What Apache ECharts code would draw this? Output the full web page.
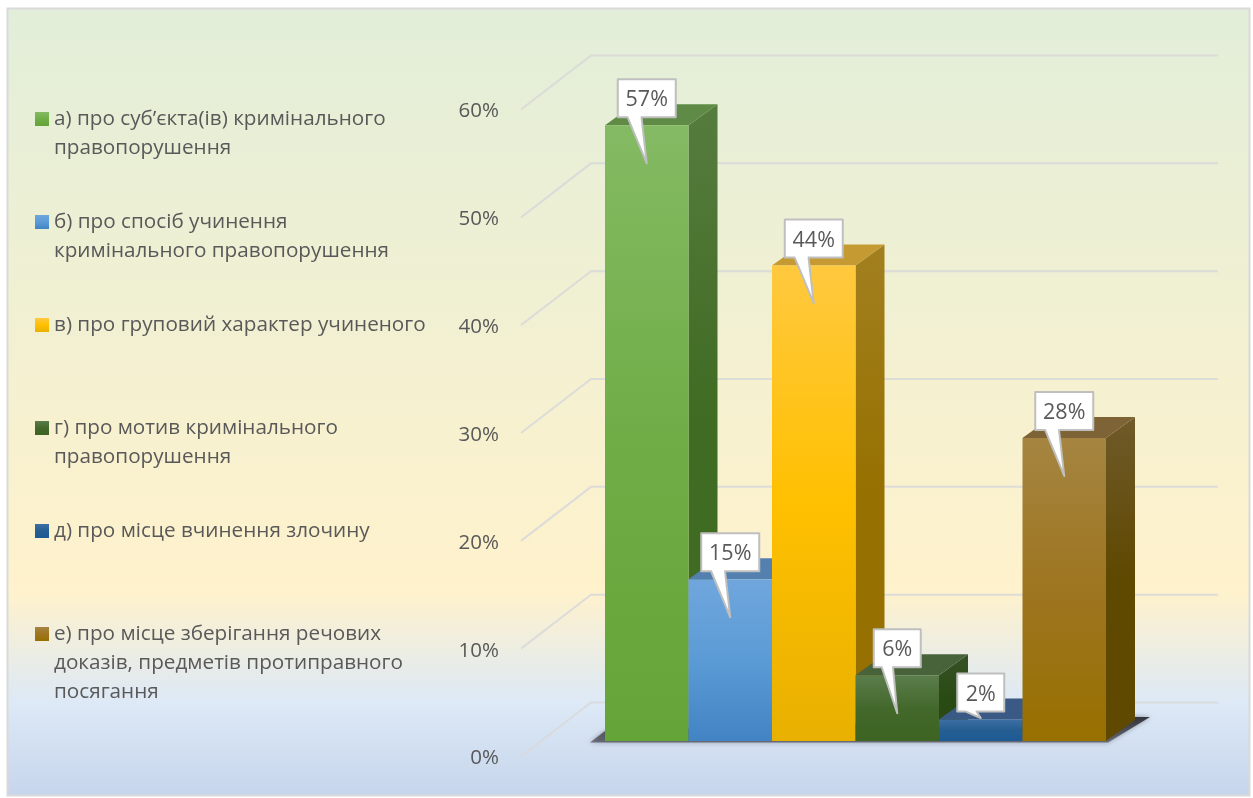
<!DOCTYPE html>
<html><head><meta charset="utf-8">
<style>html,body{margin:0;padding:0;background:#fff}#c{width:1253px;height:798px}</style>
<script src="https://cdn.jsdelivr.net/npm/echarts@6/dist/echarts.min.js"></script>
</head><body><div id="c"></div>
<script>
var categories = [
  'а) про суб’єкта(ів) кримінального\nправопорушення',
  'б) про спосіб учинення\nкримінального правопорушення',
  'в) про груповий характер учиненого',
  'г) про мотив кримінального\nправопорушення',
  'д) про місце вчинення злочину',
  'е) про місце зберігання речових\nдоказів, предметів протиправного\nпосягання'
];
var values = [57.1, 15, 44.1, 6.1, 2, 28.1];
var axisTicks = [0, 10, 20, 30, 40, 50, 60];

// palette: [front top, front mid, front bottom, side top, side bottom, top face]
var palette = [
  ['#84ba63', '#70ad47', '#65a437', '#567c3e', '#3f6b22', '#5f8b46'],
  ['#70a6dd', '#5b9bd5', '#4283c4', '#4c76a4', '#3a6a9c', '#5380ae'],
  ['#ffc93f', '#ffc000', '#e8b000', '#a2801f', '#967000', '#c69a32'],
  ['#5b7d4c', '#43682b', '#3d6422', '#375226', '#2a4a14', '#486239'],
  ['#3d6fa5', '#255e91', '#1d5a96', '#2a4f7c', '#1f4670', '#3a5a85'],
  ['#a58541', '#9e7520', '#977000', '#6f5a2a', '#5f4800', '#7d6335']
];
var font = '"Open Sans"';
var textColor = '#595959';
var depthX = 29, depthY = 21, floorLift = 15.5;
var wallX = 70, wallY = 54, wallLeft = 84, wallRight = 112;
var legendCentre = 119, legendStep = 103, legendLine = 29;

function vgrad(a, b, c) {
  return new echarts.graphic.LinearGradient(0, 0, 0, 1, [
    {offset: 0, color: a}, {offset: 0.5, color: b}, {offset: 1, color: c}
  ]);
}

function wallItem(params, api) {
  var cs = params.coordSys;
  var y = api.coord([0, api.value(1)])[1];
  var x0 = cs.x - wallLeft;
  return {
    type: 'polyline',
    shape: {points: [[x0, y], [x0 + wallX, y - wallY], [cs.x + cs.width + wallRight, y - wallY]]},
    style: {fill: null, stroke: '#d9d9d9', lineWidth: 2, opacity: 0.9},
    silent: true
  };
}

function shadowItem(params, api) {
  var cs = params.coordSys;
  var y0 = api.coord([0, 0])[1] - floorLift;
  var xL = cs.x, xR = cs.x + cs.width;
  return {
    type: 'polygon',
    shape: {points: [[xL - 15, y0 + 1.5], [xL, y0 - 10], [xR + 27, y0 - 24], [xR + 44, y0 - 24], [xR + 2, y0 + 1.5]]},
    style: {
      fill: new echarts.graphic.LinearGradient(0, 0, 0, 1, [
        {offset: 0, color: 'rgba(45,45,52,0.95)'},
        {offset: 1, color: 'rgba(75,75,85,0.7)'}
      ]),
      shadowBlur: 5, shadowColor: 'rgba(70,70,80,0.6)'
    },
    silent: true
  };
}

function barItem(colors) {
  return function (params, api) {
    var v = api.value(1), i = api.value(0);
    var w = api.size([1, 0])[0];
    var c = api.coord([i, v]);
    var b = api.coord([i, 0]);
    var xl = c[0] - w / 2, xr = c[0] + w / 2;
    var yt = c[1] - floorLift, yb = b[1] - floorLift;
    return {
      type: 'group',
      children: [
        {type: 'polygon', shape: {points: [[xr, yt], [xr + depthX, yt - depthY], [xr + depthX, yb - depthY], [xr, yb]]},
          style: {fill: vgrad(colors[3], colors[4], colors[4])}},
        {type: 'polygon', shape: {points: [[xl, yt], [xl + depthX, yt - depthY], [xr + depthX, yt - depthY], [xr, yt]]},
          style: {fill: colors[5]}},
        {type: 'rect', shape: {x: xl, y: yt, width: w, height: yb - yt},
          style: {fill: vgrad(colors[0], colors[1], colors[2])}}
      ]
    };
  };
}

function calloutItem(params, api) {
  var i = api.value(0), v = api.value(1);
  var c = api.coord([i, v]), b = api.coord([i, 0]);
  var yt = c[1] - floorLift, yb = b[1] - floorLift;
  var label = Math.round(v) + '%';
  var bw = label.length > 2 ? 58 : 47, bh = 38;
  var x = c[0] - bw / 2, y2 = yt - 8, y1 = y2 - bh;
  var tip = Math.min(yt + 38, yb - 23);
  return {
    type: 'group',
    children: [
      {type: 'polygon',
        shape: {points: [[x, y1], [x + bw, y1], [x + bw, y2], [x + bw * 0.41, y2], [c[0], tip], [x + bw * 0.17, y2], [x, y2]]},
        style: {fill: '#ffffff', stroke: '#bfbfbf', lineWidth: 2, lineJoin: 'round'}},
      {type: 'text', x: c[0], y: y1 + bh / 2 + 2,
        style: {text: label, fill: textColor, font: '21.5px ' + font, textAlign: 'center', textVerticalAlign: 'middle'}}
    ]
  };
}

var series = [
  {type: 'custom', name: 'walls', z: 1, silent: true, renderItem: wallItem,
    encode: {x: 0, y: 1}, data: axisTicks.map(function (t) { return [0, t]; })},
  {type: 'custom', name: 'floor', z: 1, silent: true, renderItem: shadowItem,
    encode: {x: 0, y: 1}, data: [[0, 0]]}
];
categories.forEach(function (name, i) {
  series.push({
    type: 'custom', name: name, z: 2, silent: true,
    renderItem: barItem(palette[i]),
    itemStyle: {color: vgrad(palette[i][0], palette[i][1], palette[i][2])},
    encode: {x: 0, y: 1},
    data: [[i, values[i]]]
  });
});
series.push({
  type: 'custom', name: 'callouts', z: 5, silent: true, renderItem: calloutItem,
  encode: {x: 0, y: 1},
  data: values.map(function (v, i) { return [i, v]; })
});

var legends = categories.map(function (name, i) {
  var n = name.split('\n').length;
  var pad = new Array(n).join('\n');
  return {
    data: [name], orient: 'vertical', left: 35,
    top: legendCentre + legendStep * i - (2 * n - 1) * legendLine / 2,
    padding: 0, itemWidth: 14, itemHeight: 14, icon: 'rect', selectedMode: false,
    formatter: function (s) { return pad + s; },
    textStyle: {fontFamily: font, fontSize: 20.7, color: textColor, lineHeight: legendLine}
  };
});

var chart = echarts.init(document.getElementById('c'), null, {renderer: 'canvas'});
chart.setOption({
  animation: false,
  tooltip: {show: false},
  graphic: [{
    type: 'rect', z: -10, silent: true,
    shape: {x: 7.5, y: 8.5, width: 1242, height: 787},
    style: {
      stroke: '#d9d9d9', lineWidth: 2,
      fill: new echarts.graphic.LinearGradient(0, 0, 0, 1, [
        {offset: 0, color: '#e2eed9'},
        {offset: 0.74, color: '#fff2cc'},
        {offset: 0.88, color: '#dde9f6'},
        {offset: 1, color: '#c6d5ec'}
      ])
    }
  }],
  legend: legends,
  grid: {left: 605, top: 109.5, width: 501, height: 647},
  xAxis: {type: 'category', data: categories, show: false, boundaryGap: true},
  yAxis: {
    type: 'value', min: 0, max: 60, interval: 10,
    axisLine: {show: false}, axisTick: {show: false}, splitLine: {show: false},
    axisLabel: {
      formatter: '{t|{value}%}', margin: 106,
      rich: {t: {color: textColor, fontFamily: font, fontSize: 20.5, padding: [4, 0, 0, 0]}}
    }
  },
  series: series
});
</script></body></html>
